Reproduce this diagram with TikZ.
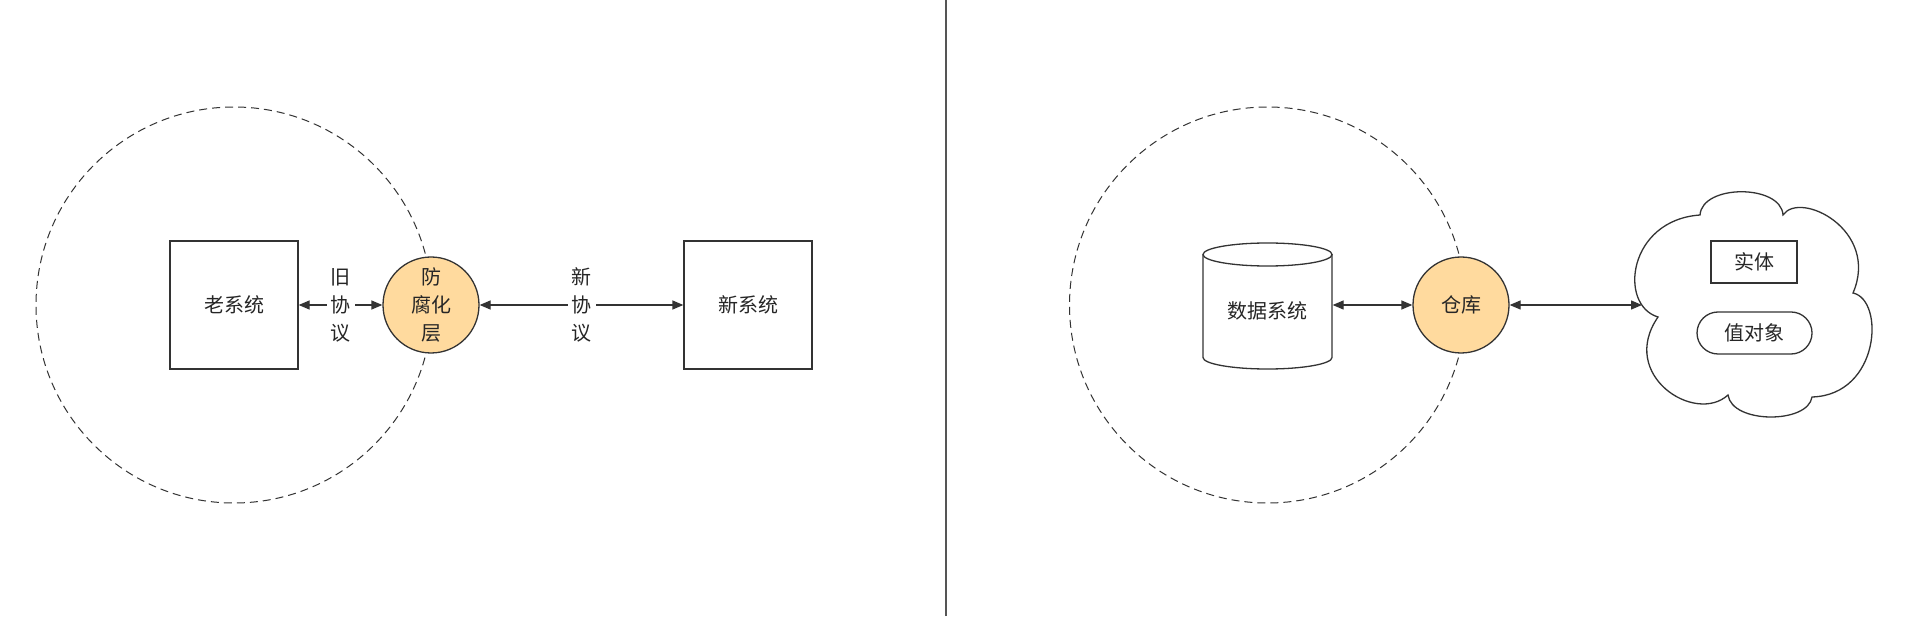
\documentclass[tikz,border=0pt]{standalone}
\usepackage{fontspec}
\newfontfamily\cjk{Noto Sans CJK SC}
\usetikzlibrary{arrows.meta}
\definecolor{ink}{RGB}{51,51,51}
\definecolor{hubfill}{RGB}{255,218,158}
\definecolor{sep}{RGB}{85,85,85}
\tikzset{every picture/.style={x=0.5pt, y=0.5pt, line width=0.65pt}}
\tikzset{every node/.style={font=\cjk\fontsize{10}{14}\selectfont, text=black!85}}
\tikzset{
  sysbox/.style={draw=ink, minimum size=64pt},
  hub/.style={draw=ink, fill=hubfill, circle, minimum size=48pt, inner sep=0pt, align=center},
  zone/.style={draw=ink, line width=0.5pt, dash pattern=on 4pt off 2.5pt},
  link/.style={draw=ink, >={Triangle[length=5.5pt, width=4.5pt]}, <->},
  proto/.style={fill=white, inner sep=2pt, align=center}
}

\begin{document}
\begin{tikzpicture}
\fill[white] (0,0) rectangle (1920,616);
\useasboundingbox (0,0) rectangle (1920,616);

% boundaries
\foreach \cx in {234,1267.5} {
    \draw[zone] (\cx,311) circle (198);
}
\draw[sep, line width=1pt] (946,0) -- (946,616);

% left: anti-corruption layer
\node[sysbox] (old) at (234,311) {老系统};
\node[hub] (acl) at (431,311) {防\\腐化\\层};
\node[sysbox] (new) at (748,311) {新系统};
\draw[link] (old) -- node[proto] {旧\\协\\议} (acl);
\draw[link] (acl) -- node[proto] {新\\协\\议} (new);

% right: repository
\node[minimum width=64.5pt, minimum height=63pt,
      label={[yshift=-3pt]center:数据系统}] (db) at (1267.5,311) {};
\draw[ink] (1203,361.5) -- (1203,258.5)
    arc[start angle=180, end angle=360, x radius=64.5, y radius=11.5] -- (1332,361.5);
\draw[ink] (1267.5,361.5) ellipse [x radius=64.5, y radius=11.5];
\node[hub] (repo) at (1461,311) {仓库};

% domain cloud
\draw[ink] (1658,299) .. controls (1618,311) and (1628,396) .. (1700,401)
    .. controls (1702,432) and (1781,432) .. (1783,401)
    .. controls (1800,426) and (1880,386) .. (1853,323)
    .. controls (1885,316) and (1880,221) .. (1812,219)
    .. controls (1808,192) and (1732,192) .. (1728,221)
    .. controls (1695,191) and (1618,241) .. cycle;
\coordinate (cloudw) at (1642,311);
\node[draw=ink, minimum width=43pt, minimum height=21pt] (entity) at (1754,354) {实体};
\node[draw=ink, rounded corners=10.5pt, minimum width=57.5pt, minimum height=21pt] (vo) at (1754.5,283) {值对象};

\draw[link] (db) -- (repo);
\draw[link] (repo) -- (cloudw);
\end{tikzpicture}
\end{document}
